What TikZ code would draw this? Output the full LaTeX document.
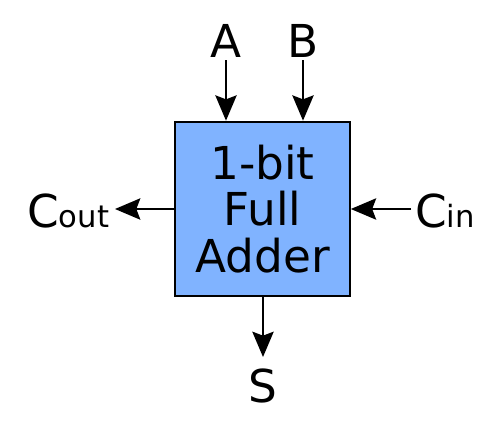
\documentclass[tikz,border=0pt]{standalone}
\usepackage{fontspec}
\setmainfont{DejaVu Sans}
\usetikzlibrary{arrows.meta}
\definecolor{adderblue}{HTML}{80B3FF}
\newcommand{\lsub}[1]{{\fontsize{23}{23}\selectfont #1}}

\begin{document}
\begin{tikzpicture}[
  x=0.75pt, y=-0.75pt,
  font=\fontsize{34}{35}\selectfont,
  blk/.style={draw, line width=1.5pt, fill=adderblue, minimum size=131pt,
    align=center, inner sep=0pt},
  lbl/.style={inner sep=0pt, anchor=base},
  sig/.style={line width=1.5pt, -{Stealth[length=19pt, width=16pt, inset=3pt]}},
]

\useasboundingbox (0,0) rectangle (500,430);

\node [blk] (adder) at (262.5,209) {1-bit\\Full\\Adder};

\node [lbl] (a) at (226,57) {A};
\node [lbl] (b) at (303,57) {B};
\node [lbl, anchor=base west] (cout) at (27,227) {C\lsub{out}};
\node [lbl, anchor=base west] (cin) at (415,227) {C\lsub{in}};
\node [lbl] (s) at (263,402) {S};

\coordinate (ina) at (226,60);
\coordinate (inb) at (303,60);
\coordinate (outc) at (115,209);
\coordinate (inc) at (411,209);
\coordinate (outs) at (263,357);

\draw [sig] (ina) -- (ina |- adder.north);
\draw [sig] (inb) -- (inb |- adder.north);
\draw [sig] (adder.west) -- (outc);
\draw [sig] (inc) -- (adder.east);
\draw [sig] (outs |- adder.south) -- (outs);

\end{tikzpicture}
\end{document}
